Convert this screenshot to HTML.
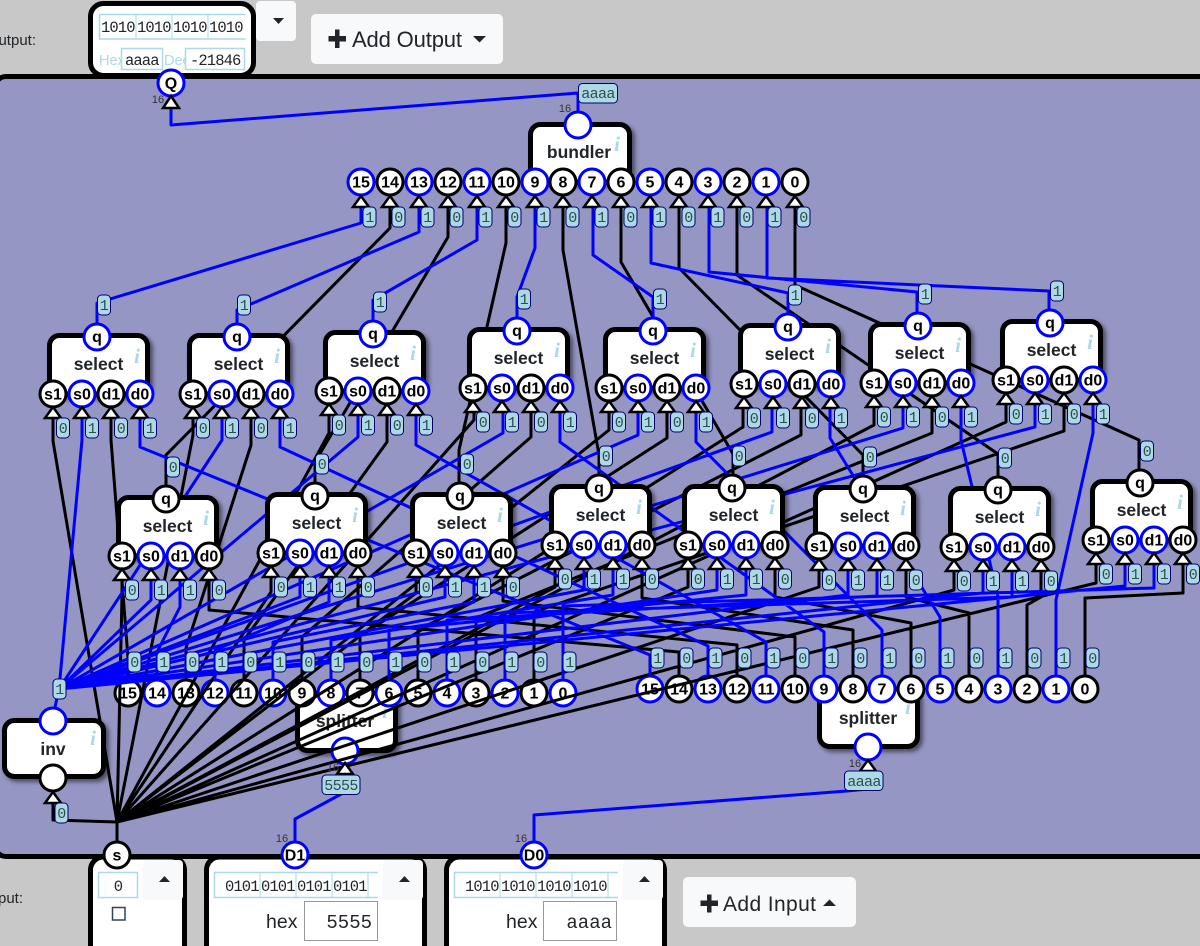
<!DOCTYPE html>
<html><head><meta charset="utf-8"><title>diagram</title>
<style>
html,body{margin:0;padding:0;background:#c8c8c8;overflow:hidden}
svg{display:block}
text{font-family:"Liberation Sans",sans-serif}
.bx{fill:#fff;stroke:#000;stroke-width:5;filter:drop-shadow(3px 3px 2px rgba(0,0,0,.5))}
.t{font-size:17.5px;font-weight:bold;fill:#212529;text-anchor:middle}
.i{font-family:"Liberation Serif",serif;font-size:21px;font-style:italic;font-weight:bold;fill:#add8e6;text-anchor:middle}
.k{fill:#fff;stroke:#000;stroke-width:3}
.u{fill:#fff;stroke:#00f;stroke-width:3}
.l{font-size:16px;font-weight:bold;fill:#000;text-anchor:middle}
.tr{fill:#fff;stroke:#000;stroke-width:2.5;stroke-linejoin:miter}
.bd{fill:#add8e6;stroke:#00006e;stroke-width:1}
.v{font-family:"Liberation Mono",monospace;font-size:15px;letter-spacing:-.6px;fill:#2f4f4f;text-anchor:middle}
.w{fill:none;stroke-width:3;stroke-linejoin:round}
.wk{stroke:#000}.wu{stroke:#00f}
.sm{font-size:11px;fill:#333;text-anchor:middle}
.m{font-family:"Liberation Mono",monospace;font-size:15.5px;letter-spacing:-.9px;fill:#212529}
.btn{fill:#f8f9fa}
.ib{fill:#fff;stroke:#add8e6;stroke-width:1.5}
.ibo{fill:none;stroke:#add8e6;stroke-width:1.5}
.sp{stroke:#add8e6;stroke-width:1;fill:none}
.o{fill:#fff;stroke:#000;stroke-width:5}
</style></head>
<body>
<svg xmlns="http://www.w3.org/2000/svg" width="1200" height="946" viewBox="0 0 1200 946">
<rect width="1200" height="946" fill="#c8c8c8"/>
<text x="36" y="45" text-anchor="end" font-size="15" fill="#212529">Output:</text>
<text x="23" y="903" text-anchor="end" font-size="15" fill="#212529">Input:</text>

<rect class="btn" x="256" y="1" width="40" height="40" rx="4"/>
<path d="M273 18h11l-5.500 6z" fill="#212529"/>
<rect class="btn" x="311" y="14" width="192" height="50" rx="5"/>
<path d="M329 36.500h6.500V30h3.500v6.500h6.500V41h-6.500v6.500h-3.500V41h-6.500z" fill="#212529" stroke="#212529"/>
<text x="352" y="47" font-size="22" fill="#212529" textLength="110">Add Output</text>
<path d="M473 36h13l-6.500 6.500z" fill="#212529"/>

<rect class="o" x="90.500" y="3.500" width="163" height="72" rx="13"/>
<path class="ibo" d="M245.500 14.500H99.500V39H245.500"/>
<text class="m" x="101" y="32">1010</text><text class="m" x="137" y="32">1010</text><text class="m" x="173" y="32">1010</text><text class="m" x="209" y="32">1010</text>
<path class="sp" d="M136 15v24M172 15v24M208 15v24"/>
<text x="99" y="65" font-size="14.500" fill="#add8e6">Hex</text>
<rect class="ib" x="121.500" y="48.500" width="41" height="21"/>
<text class="m" x="125" y="65">aaaa</text>
<text x="164" y="65" font-size="14.500" fill="#add8e6">Dec</text>
<rect class="ib" x="185.500" y="48.500" width="59" height="21"/>
<text class="m" x="190" y="65">-21846</text>

<rect x="-5" y="76.500" width="1215" height="780" rx="11" fill="#9696c4" stroke="#000" stroke-width="5"/>

<rect class="o" x="90.500" y="857" width="94" height="120" rx="13"/>
<rect class="ib" x="98.500" y="872.500" width="39" height="25"/>
<text class="m" x="118" y="891" text-anchor="middle">0</text>
<rect class="btn" x="143" y="860" width="40" height="40" rx="4"/>
<path d="M159 882h11l-5.500-6z" fill="#212529"/>
<rect x="112.500" y="907.500" width="12.500" height="12.500" fill="#fff" stroke="#345" stroke-width="1.500"/>

<rect class="o" x="206.500" y="857" width="218" height="120" rx="13"/>
<path class="ibo" d="M378 872.500H214.500V897.500H378"/>
<text class="m" x="225" y="891">0101</text><text class="m" x="261" y="891">0101</text><text class="m" x="297" y="891">0101</text><text class="m" x="333" y="891">0101</text>
<path class="sp" d="M260 873v24M296 873v24M332 873v24M368 873v24"/>
<rect class="btn" x="383" y="860" width="40" height="40" rx="4"/>
<path d="M399 882h11l-5.500-6z" fill="#212529"/>
<text x="266" y="928" font-size="19.500" fill="#212529">hex</text>
<rect x="304.500" y="901.500" width="73" height="39" fill="#fff" stroke="#999" stroke-width="1"/>
<text x="372" y="928" text-anchor="end" style="font-family:'Liberation Mono',monospace;font-size:19px" fill="#212529">5555</text>

<rect class="o" x="446.500" y="857" width="218" height="120" rx="13"/>
<path class="ibo" d="M618 872.500H454.500V897.500H618"/>
<text class="m" x="465" y="891">1010</text><text class="m" x="501" y="891">1010</text><text class="m" x="537" y="891">1010</text><text class="m" x="573" y="891">1010</text>
<path class="sp" d="M500 873v24M536 873v24M572 873v24M608 873v24"/>
<rect class="btn" x="623" y="860" width="40" height="40" rx="4"/>
<path d="M639 882h11l-5.500-6z" fill="#212529"/>
<text x="506" y="928" font-size="19.500" fill="#212529">hex</text>
<rect x="543.500" y="901.500" width="73" height="39" fill="#fff" stroke="#999" stroke-width="1"/>
<text x="612" y="928" text-anchor="end" style="font-family:'Liberation Mono',monospace;font-size:19px" fill="#212529">aaaa</text>

<rect class="btn" x="683" y="877" width="173" height="50" rx="5"/>
<path d="M701 901h6.500V895h3.500v6h6.500v4.500H711v6.500h-3.500v-6.500H701z" fill="#212529" stroke="#212529"/>
<text x="723" y="911" font-size="21" fill="#212529" textLength="93">Add Input</text>
<path d="M823 906h13l-6.500-6.500z" fill="#212529"/>

<!-- splitters below wires -->
<rect class="bx" x="297.500" y="693" width="98" height="57.500" rx="10"/>
<text class="t" x="345" y="727">splitter</text><text class="i" x="385" y="718">i</text>
<circle class="u" cx="345" cy="751" r="13"/>
<g>
<circle class="k" cx="128" cy="693" r="13"/><text class="l" x="128" y="698.500">15</text>
<circle class="u" cx="157" cy="693" r="13"/><text class="l" x="157" y="698.500">14</text>
<circle class="k" cx="186" cy="693" r="13"/><text class="l" x="186" y="698.500">13</text>
<circle class="u" cx="215" cy="693" r="13"/><text class="l" x="215" y="698.500">12</text>
<circle class="k" cx="244" cy="693" r="13"/><text class="l" x="244" y="698.500">11</text>
<circle class="u" cx="273" cy="693" r="13"/><text class="l" x="273" y="698.500">10</text>
<circle class="k" cx="302" cy="693" r="13"/><text class="l" x="302" y="698.500">9</text>
<circle class="u" cx="331" cy="693" r="13"/><text class="l" x="331" y="698.500">8</text>
<circle class="k" cx="360" cy="693" r="13"/><text class="l" x="360" y="698.500">7</text>
<circle class="u" cx="389" cy="693" r="13"/><text class="l" x="389" y="698.500">6</text>
<circle class="k" cx="418" cy="693" r="13"/><text class="l" x="418" y="698.500">5</text>
<circle class="u" cx="447" cy="693" r="13"/><text class="l" x="447" y="698.500">4</text>
<circle class="k" cx="476" cy="693" r="13"/><text class="l" x="476" y="698.500">3</text>
<circle class="u" cx="505" cy="693" r="13"/><text class="l" x="505" y="698.500">2</text>
<circle class="k" cx="534" cy="693" r="13"/><text class="l" x="534" y="698.500">1</text>
<circle class="u" cx="563" cy="693" r="13"/><text class="l" x="563" y="698.500">0</text>
</g>
<rect class="bx" x="819.500" y="689" width="98" height="57.500" rx="10"/>
<text class="t" x="868" y="724">splitter</text><text class="i" x="908" y="714">i</text>
<circle class="u" cx="868" cy="747" r="13"/>
<g>
<circle class="u" cx="650" cy="689" r="13"/><text class="l" x="650" y="694.500">15</text>
<circle class="k" cx="679" cy="689" r="13"/><text class="l" x="679" y="694.500">14</text>
<circle class="u" cx="708" cy="689" r="13"/><text class="l" x="708" y="694.500">13</text>
<circle class="k" cx="737" cy="689" r="13"/><text class="l" x="737" y="694.500">12</text>
<circle class="u" cx="766" cy="689" r="13"/><text class="l" x="766" y="694.500">11</text>
<circle class="k" cx="795" cy="689" r="13"/><text class="l" x="795" y="694.500">10</text>
<circle class="u" cx="824" cy="689" r="13"/><text class="l" x="824" y="694.500">9</text>
<circle class="k" cx="853" cy="689" r="13"/><text class="l" x="853" y="694.500">8</text>
<circle class="u" cx="882" cy="689" r="13"/><text class="l" x="882" y="694.500">7</text>
<circle class="k" cx="911" cy="689" r="13"/><text class="l" x="911" y="694.500">6</text>
<circle class="u" cx="940" cy="689" r="13"/><text class="l" x="940" y="694.500">5</text>
<circle class="k" cx="969" cy="689" r="13"/><text class="l" x="969" y="694.500">4</text>
<circle class="u" cx="998" cy="689" r="13"/><text class="l" x="998" y="694.500">3</text>
<circle class="k" cx="1027" cy="689" r="13"/><text class="l" x="1027" y="694.500">2</text>
<circle class="u" cx="1056" cy="689" r="13"/><text class="l" x="1056" y="694.500">1</text>
<circle class="k" cx="1085" cy="689" r="13"/><text class="l" x="1085" y="694.500">0</text>
</g>

<!-- black wires -->
<path class="w wk" d="M117 855V822L53 820V803
M117 822L53 441V418M117 822L193 435V418M117 822L329 433V415M117 822L474 420V412M117 822L609 430V412M117 822L743 427V408M117 822L874 425V407M117 822L1006 422V404
M117 822L122 595V580M117 822L271 592V577M117 822L416 593V577M117 822L555 587V569M117 822L688 587V569M117 822L819 587V570M117 822L954 590V571M117 822L1096 583V564
M128 680V658L111 440V418M186 680V648L251 445V418M244 680V640L387 442V415M302 680V637L531 437V412M360 680V636L667 438V412M418 680V630L801 435V408M476 680V618L932 433V407M534 680V612L1064 431V404
M679 676V652L209 610V580M737 676V645L358 607V577M795 676V637L503 601V577M853 676V630L642 598V569M911 676V623L775 597V569M969 676V613L906 597V570M1027 676V605L1041 597V571M1085 676V598L1183 593V564
M166 499V455L390 228V207M315 496V462L448 237V207M459 496V450L506 243V207M599 488V455L563 250V207M733 488V454L621 262V207M863 489V455L679 268V207M998 491V454L737 275V207M1139 482V440L795 285V207"/>
<!-- blue wires -->
<path class="w wu" d="M52 721L59 689
M59 689L82 440V418M59 689L222 440V418M59 689L358 437V415M59 689L503 433V412M59 689L638 435V412M59 689L772 432V408M59 689L903 428V407M59 689L1035 427V404
M59 689L151 600V580M59 689L300 597V577M59 689L445 597V577M59 689L584 590V569M59 689L717 590V569M59 689L848 595V570M59 689L983 593V571M59 689L1125 586V564
M157 680V652L180 607V580M215 680V650L329 602V577M273 680V642L474 602V577M331 680V640L613 595V569M389 680V630L746 595V569M447 680V620L877 596V570M505 680V613L1012 597V571M563 680V606L1154 588V564
M650 676V655L140 447V418M708 676V646L280 447V418M766 676V642L416 445V415M824 676V632L560 442V412M882 676V630L696 442V412M940 676V617L830 438V408M998 676V597L961 440V407M1056 676V600L1093 433V404
M97 337V303L361 223V207M237 337V310L419 232V207M373 335V300L477 240V207M517 331V297L535 248V207M653 331V297L593 255V207M788 326V293L651 263V207M917 325V292L709 272V207M1049 323V291L767 278V207
M578 125V93L171 125V108M534 855V815L847 791L868 789V770M295 855V819L345 792V773"/>

<!-- upper selects -->
<g transform="translate(53,394)"><rect class="bx" x="-3.500" y="-58.500" width="98" height="58.500" rx="10"/><text class="t" x="45.500" y="-24">select</text><text class="i" x="84" y="-31">i</text><circle class="u" cx="44" cy="-57" r="13"/><text class="l" x="44" y="-52">q</text><circle class="k" r="13"/><text class="l" y="5.500">s1</text><circle class="u" cx="29" r="13"/><text class="l" x="29" y="5.500">s0</text><circle class="k" cx="58" r="13"/><text class="l" x="58" y="5.500">d1</text><circle class="u" cx="87" r="13"/><text class="l" x="87" y="5.500">d0</text><path class="tr" d="M0 13l8 11h-16zM29 13l8 11h-16zM58 13l8 11h-16zM87 13l8 11h-16z"/><rect class="bd" x="3.500" y="24" width="13" height="20" rx="4"/><text class="v" x="10" y="39">0</text><rect class="bd" x="32.500" y="24" width="13" height="20" rx="4"/><text class="v" x="39" y="39">1</text><rect class="bd" x="61.500" y="24" width="13" height="20" rx="4"/><text class="v" x="68" y="39">0</text><rect class="bd" x="90.500" y="24" width="13" height="20" rx="4"/><text class="v" x="97" y="39">1</text><rect class="bd" x="44.500" y="-99" width="13" height="20" rx="4"/><text class="v" x="51" y="-84">1</text></g>
<g transform="translate(193,394)"><rect class="bx" x="-3.500" y="-58.500" width="98" height="58.500" rx="10"/><text class="t" x="45.500" y="-24">select</text><text class="i" x="84" y="-31">i</text><circle class="u" cx="44" cy="-57" r="13"/><text class="l" x="44" y="-52">q</text><circle class="k" r="13"/><text class="l" y="5.500">s1</text><circle class="u" cx="29" r="13"/><text class="l" x="29" y="5.500">s0</text><circle class="k" cx="58" r="13"/><text class="l" x="58" y="5.500">d1</text><circle class="u" cx="87" r="13"/><text class="l" x="87" y="5.500">d0</text><path class="tr" d="M0 13l8 11h-16zM29 13l8 11h-16zM58 13l8 11h-16zM87 13l8 11h-16z"/><rect class="bd" x="3.500" y="24" width="13" height="20" rx="4"/><text class="v" x="10" y="39">0</text><rect class="bd" x="32.500" y="24" width="13" height="20" rx="4"/><text class="v" x="39" y="39">1</text><rect class="bd" x="61.500" y="24" width="13" height="20" rx="4"/><text class="v" x="68" y="39">0</text><rect class="bd" x="90.500" y="24" width="13" height="20" rx="4"/><text class="v" x="97" y="39">1</text><rect class="bd" x="44.500" y="-99" width="13" height="20" rx="4"/><text class="v" x="51" y="-84">1</text></g>
<g transform="translate(329,391)"><rect class="bx" x="-3.500" y="-58.500" width="98" height="58.500" rx="10"/><text class="t" x="45.500" y="-24">select</text><text class="i" x="84" y="-31">i</text><circle class="u" cx="44" cy="-57" r="13"/><text class="l" x="44" y="-52">q</text><circle class="k" r="13"/><text class="l" y="5.500">s1</text><circle class="u" cx="29" r="13"/><text class="l" x="29" y="5.500">s0</text><circle class="k" cx="58" r="13"/><text class="l" x="58" y="5.500">d1</text><circle class="u" cx="87" r="13"/><text class="l" x="87" y="5.500">d0</text><path class="tr" d="M0 13l8 11h-16zM29 13l8 11h-16zM58 13l8 11h-16zM87 13l8 11h-16z"/><rect class="bd" x="3.500" y="24" width="13" height="20" rx="4"/><text class="v" x="10" y="39">0</text><rect class="bd" x="32.500" y="24" width="13" height="20" rx="4"/><text class="v" x="39" y="39">1</text><rect class="bd" x="61.500" y="24" width="13" height="20" rx="4"/><text class="v" x="68" y="39">0</text><rect class="bd" x="90.500" y="24" width="13" height="20" rx="4"/><text class="v" x="97" y="39">1</text><rect class="bd" x="44.500" y="-99" width="13" height="20" rx="4"/><text class="v" x="51" y="-84">1</text></g>
<g transform="translate(473,388)"><rect class="bx" x="-3.500" y="-58.500" width="98" height="58.500" rx="10"/><text class="t" x="45.500" y="-24">select</text><text class="i" x="84" y="-31">i</text><circle class="u" cx="44" cy="-57" r="13"/><text class="l" x="44" y="-52">q</text><circle class="k" r="13"/><text class="l" y="5.500">s1</text><circle class="u" cx="29" r="13"/><text class="l" x="29" y="5.500">s0</text><circle class="k" cx="58" r="13"/><text class="l" x="58" y="5.500">d1</text><circle class="u" cx="87" r="13"/><text class="l" x="87" y="5.500">d0</text><path class="tr" d="M0 13l8 11h-16zM29 13l8 11h-16zM58 13l8 11h-16zM87 13l8 11h-16z"/><rect class="bd" x="3.500" y="24" width="13" height="20" rx="4"/><text class="v" x="10" y="39">0</text><rect class="bd" x="32.500" y="24" width="13" height="20" rx="4"/><text class="v" x="39" y="39">1</text><rect class="bd" x="61.500" y="24" width="13" height="20" rx="4"/><text class="v" x="68" y="39">0</text><rect class="bd" x="90.500" y="24" width="13" height="20" rx="4"/><text class="v" x="97" y="39">1</text><rect class="bd" x="44.500" y="-99" width="13" height="20" rx="4"/><text class="v" x="51" y="-84">1</text></g>
<g transform="translate(609,388)"><rect class="bx" x="-3.500" y="-58.500" width="98" height="58.500" rx="10"/><text class="t" x="45.500" y="-24">select</text><text class="i" x="84" y="-31">i</text><circle class="u" cx="44" cy="-57" r="13"/><text class="l" x="44" y="-52">q</text><circle class="k" r="13"/><text class="l" y="5.500">s1</text><circle class="u" cx="29" r="13"/><text class="l" x="29" y="5.500">s0</text><circle class="k" cx="58" r="13"/><text class="l" x="58" y="5.500">d1</text><circle class="u" cx="87" r="13"/><text class="l" x="87" y="5.500">d0</text><path class="tr" d="M0 13l8 11h-16zM29 13l8 11h-16zM58 13l8 11h-16zM87 13l8 11h-16z"/><rect class="bd" x="3.500" y="24" width="13" height="20" rx="4"/><text class="v" x="10" y="39">0</text><rect class="bd" x="32.500" y="24" width="13" height="20" rx="4"/><text class="v" x="39" y="39">1</text><rect class="bd" x="61.500" y="24" width="13" height="20" rx="4"/><text class="v" x="68" y="39">0</text><rect class="bd" x="90.500" y="24" width="13" height="20" rx="4"/><text class="v" x="97" y="39">1</text><rect class="bd" x="44.500" y="-99" width="13" height="20" rx="4"/><text class="v" x="51" y="-84">1</text></g>
<g transform="translate(744,384)"><rect class="bx" x="-3.500" y="-58.500" width="98" height="58.500" rx="10"/><text class="t" x="45.500" y="-24">select</text><text class="i" x="84" y="-31">i</text><circle class="u" cx="44" cy="-57" r="13"/><text class="l" x="44" y="-52">q</text><circle class="k" r="13"/><text class="l" y="5.500">s1</text><circle class="u" cx="29" r="13"/><text class="l" x="29" y="5.500">s0</text><circle class="k" cx="58" r="13"/><text class="l" x="58" y="5.500">d1</text><circle class="u" cx="87" r="13"/><text class="l" x="87" y="5.500">d0</text><path class="tr" d="M0 13l8 11h-16zM29 13l8 11h-16zM58 13l8 11h-16zM87 13l8 11h-16z"/><rect class="bd" x="3.500" y="24" width="13" height="20" rx="4"/><text class="v" x="10" y="39">0</text><rect class="bd" x="32.500" y="24" width="13" height="20" rx="4"/><text class="v" x="39" y="39">1</text><rect class="bd" x="61.500" y="24" width="13" height="20" rx="4"/><text class="v" x="68" y="39">0</text><rect class="bd" x="90.500" y="24" width="13" height="20" rx="4"/><text class="v" x="97" y="39">1</text><rect class="bd" x="44.500" y="-99" width="13" height="20" rx="4"/><text class="v" x="51" y="-84">1</text></g>
<g transform="translate(874,383)"><rect class="bx" x="-3.500" y="-58.500" width="98" height="58.500" rx="10"/><text class="t" x="45.500" y="-24">select</text><text class="i" x="84" y="-31">i</text><circle class="u" cx="44" cy="-57" r="13"/><text class="l" x="44" y="-52">q</text><circle class="k" r="13"/><text class="l" y="5.500">s1</text><circle class="u" cx="29" r="13"/><text class="l" x="29" y="5.500">s0</text><circle class="k" cx="58" r="13"/><text class="l" x="58" y="5.500">d1</text><circle class="u" cx="87" r="13"/><text class="l" x="87" y="5.500">d0</text><path class="tr" d="M0 13l8 11h-16zM29 13l8 11h-16zM58 13l8 11h-16zM87 13l8 11h-16z"/><rect class="bd" x="3.500" y="24" width="13" height="20" rx="4"/><text class="v" x="10" y="39">0</text><rect class="bd" x="32.500" y="24" width="13" height="20" rx="4"/><text class="v" x="39" y="39">1</text><rect class="bd" x="61.500" y="24" width="13" height="20" rx="4"/><text class="v" x="68" y="39">0</text><rect class="bd" x="90.500" y="24" width="13" height="20" rx="4"/><text class="v" x="97" y="39">1</text><rect class="bd" x="44.500" y="-99" width="13" height="20" rx="4"/><text class="v" x="51" y="-84">1</text></g>
<g transform="translate(1006,380)"><rect class="bx" x="-3.500" y="-58.500" width="98" height="58.500" rx="10"/><text class="t" x="45.500" y="-24">select</text><text class="i" x="84" y="-31">i</text><circle class="u" cx="44" cy="-57" r="13"/><text class="l" x="44" y="-52">q</text><circle class="k" r="13"/><text class="l" y="5.500">s1</text><circle class="u" cx="29" r="13"/><text class="l" x="29" y="5.500">s0</text><circle class="k" cx="58" r="13"/><text class="l" x="58" y="5.500">d1</text><circle class="u" cx="87" r="13"/><text class="l" x="87" y="5.500">d0</text><path class="tr" d="M0 13l8 11h-16zM29 13l8 11h-16zM58 13l8 11h-16zM87 13l8 11h-16z"/><rect class="bd" x="3.500" y="24" width="13" height="20" rx="4"/><text class="v" x="10" y="39">0</text><rect class="bd" x="32.500" y="24" width="13" height="20" rx="4"/><text class="v" x="39" y="39">1</text><rect class="bd" x="61.500" y="24" width="13" height="20" rx="4"/><text class="v" x="68" y="39">0</text><rect class="bd" x="90.500" y="24" width="13" height="20" rx="4"/><text class="v" x="97" y="39">1</text><rect class="bd" x="44.500" y="-99" width="13" height="20" rx="4"/><text class="v" x="51" y="-84">1</text></g>

<!-- lower selects -->
<g transform="translate(122,556)"><rect class="bx" x="-3.500" y="-58.500" width="98" height="58.500" rx="10"/><text class="t" x="45.500" y="-24">select</text><text class="i" x="84" y="-31">i</text><circle class="k" cx="44" cy="-57" r="13"/><text class="l" x="44" y="-52">q</text><circle class="k" r="13"/><text class="l" y="5.500">s1</text><circle class="u" cx="29" r="13"/><text class="l" x="29" y="5.500">s0</text><circle class="u" cx="58" r="13"/><text class="l" x="58" y="5.500">d1</text><circle class="k" cx="87" r="13"/><text class="l" x="87" y="5.500">d0</text><path class="tr" d="M0 13l8 11h-16zM29 13l8 11h-16zM58 13l8 11h-16zM87 13l8 11h-16z"/><rect class="bd" x="3.500" y="24" width="13" height="20" rx="4"/><text class="v" x="10" y="39">0</text><rect class="bd" x="32.500" y="24" width="13" height="20" rx="4"/><text class="v" x="39" y="39">1</text><rect class="bd" x="61.500" y="24" width="13" height="20" rx="4"/><text class="v" x="68" y="39">1</text><rect class="bd" x="90.500" y="24" width="13" height="20" rx="4"/><text class="v" x="97" y="39">0</text><rect class="bd" x="44.500" y="-99" width="13" height="20" rx="4"/><text class="v" x="51" y="-84">0</text></g>
<g transform="translate(271,553)"><rect class="bx" x="-3.500" y="-58.500" width="98" height="58.500" rx="10"/><text class="t" x="45.500" y="-24">select</text><text class="i" x="84" y="-31">i</text><circle class="k" cx="44" cy="-57" r="13"/><text class="l" x="44" y="-52">q</text><circle class="k" r="13"/><text class="l" y="5.500">s1</text><circle class="u" cx="29" r="13"/><text class="l" x="29" y="5.500">s0</text><circle class="u" cx="58" r="13"/><text class="l" x="58" y="5.500">d1</text><circle class="k" cx="87" r="13"/><text class="l" x="87" y="5.500">d0</text><path class="tr" d="M0 13l8 11h-16zM29 13l8 11h-16zM58 13l8 11h-16zM87 13l8 11h-16z"/><rect class="bd" x="3.500" y="24" width="13" height="20" rx="4"/><text class="v" x="10" y="39">0</text><rect class="bd" x="32.500" y="24" width="13" height="20" rx="4"/><text class="v" x="39" y="39">1</text><rect class="bd" x="61.500" y="24" width="13" height="20" rx="4"/><text class="v" x="68" y="39">1</text><rect class="bd" x="90.500" y="24" width="13" height="20" rx="4"/><text class="v" x="97" y="39">0</text><rect class="bd" x="44.500" y="-99" width="13" height="20" rx="4"/><text class="v" x="51" y="-84">0</text></g>
<g transform="translate(416,553)"><rect class="bx" x="-3.500" y="-58.500" width="98" height="58.500" rx="10"/><text class="t" x="45.500" y="-24">select</text><text class="i" x="84" y="-31">i</text><circle class="k" cx="44" cy="-57" r="13"/><text class="l" x="44" y="-52">q</text><circle class="k" r="13"/><text class="l" y="5.500">s1</text><circle class="u" cx="29" r="13"/><text class="l" x="29" y="5.500">s0</text><circle class="u" cx="58" r="13"/><text class="l" x="58" y="5.500">d1</text><circle class="k" cx="87" r="13"/><text class="l" x="87" y="5.500">d0</text><path class="tr" d="M0 13l8 11h-16zM29 13l8 11h-16zM58 13l8 11h-16zM87 13l8 11h-16z"/><rect class="bd" x="3.500" y="24" width="13" height="20" rx="4"/><text class="v" x="10" y="39">0</text><rect class="bd" x="32.500" y="24" width="13" height="20" rx="4"/><text class="v" x="39" y="39">1</text><rect class="bd" x="61.500" y="24" width="13" height="20" rx="4"/><text class="v" x="68" y="39">1</text><rect class="bd" x="90.500" y="24" width="13" height="20" rx="4"/><text class="v" x="97" y="39">0</text><rect class="bd" x="44.500" y="-99" width="13" height="20" rx="4"/><text class="v" x="51" y="-84">0</text></g>
<g transform="translate(555,545)"><rect class="bx" x="-3.500" y="-58.500" width="98" height="58.500" rx="10"/><text class="t" x="45.500" y="-24">select</text><text class="i" x="84" y="-31">i</text><circle class="k" cx="44" cy="-57" r="13"/><text class="l" x="44" y="-52">q</text><circle class="k" r="13"/><text class="l" y="5.500">s1</text><circle class="u" cx="29" r="13"/><text class="l" x="29" y="5.500">s0</text><circle class="u" cx="58" r="13"/><text class="l" x="58" y="5.500">d1</text><circle class="k" cx="87" r="13"/><text class="l" x="87" y="5.500">d0</text><path class="tr" d="M0 13l8 11h-16zM29 13l8 11h-16zM58 13l8 11h-16zM87 13l8 11h-16z"/><rect class="bd" x="3.500" y="24" width="13" height="20" rx="4"/><text class="v" x="10" y="39">0</text><rect class="bd" x="32.500" y="24" width="13" height="20" rx="4"/><text class="v" x="39" y="39">1</text><rect class="bd" x="61.500" y="24" width="13" height="20" rx="4"/><text class="v" x="68" y="39">1</text><rect class="bd" x="90.500" y="24" width="13" height="20" rx="4"/><text class="v" x="97" y="39">0</text><rect class="bd" x="44.500" y="-99" width="13" height="20" rx="4"/><text class="v" x="51" y="-84">0</text></g>
<g transform="translate(688,545)"><rect class="bx" x="-3.500" y="-58.500" width="98" height="58.500" rx="10"/><text class="t" x="45.500" y="-24">select</text><text class="i" x="84" y="-31">i</text><circle class="k" cx="44" cy="-57" r="13"/><text class="l" x="44" y="-52">q</text><circle class="k" r="13"/><text class="l" y="5.500">s1</text><circle class="u" cx="29" r="13"/><text class="l" x="29" y="5.500">s0</text><circle class="u" cx="58" r="13"/><text class="l" x="58" y="5.500">d1</text><circle class="k" cx="87" r="13"/><text class="l" x="87" y="5.500">d0</text><path class="tr" d="M0 13l8 11h-16zM29 13l8 11h-16zM58 13l8 11h-16zM87 13l8 11h-16z"/><rect class="bd" x="3.500" y="24" width="13" height="20" rx="4"/><text class="v" x="10" y="39">0</text><rect class="bd" x="32.500" y="24" width="13" height="20" rx="4"/><text class="v" x="39" y="39">1</text><rect class="bd" x="61.500" y="24" width="13" height="20" rx="4"/><text class="v" x="68" y="39">1</text><rect class="bd" x="90.500" y="24" width="13" height="20" rx="4"/><text class="v" x="97" y="39">0</text><rect class="bd" x="44.500" y="-99" width="13" height="20" rx="4"/><text class="v" x="51" y="-84">0</text></g>
<g transform="translate(819,546)"><rect class="bx" x="-3.500" y="-58.500" width="98" height="58.500" rx="10"/><text class="t" x="45.500" y="-24">select</text><text class="i" x="84" y="-31">i</text><circle class="k" cx="44" cy="-57" r="13"/><text class="l" x="44" y="-52">q</text><circle class="k" r="13"/><text class="l" y="5.500">s1</text><circle class="u" cx="29" r="13"/><text class="l" x="29" y="5.500">s0</text><circle class="u" cx="58" r="13"/><text class="l" x="58" y="5.500">d1</text><circle class="k" cx="87" r="13"/><text class="l" x="87" y="5.500">d0</text><path class="tr" d="M0 13l8 11h-16zM29 13l8 11h-16zM58 13l8 11h-16zM87 13l8 11h-16z"/><rect class="bd" x="3.500" y="24" width="13" height="20" rx="4"/><text class="v" x="10" y="39">0</text><rect class="bd" x="32.500" y="24" width="13" height="20" rx="4"/><text class="v" x="39" y="39">1</text><rect class="bd" x="61.500" y="24" width="13" height="20" rx="4"/><text class="v" x="68" y="39">1</text><rect class="bd" x="90.500" y="24" width="13" height="20" rx="4"/><text class="v" x="97" y="39">0</text><rect class="bd" x="44.500" y="-99" width="13" height="20" rx="4"/><text class="v" x="51" y="-84">0</text></g>
<g transform="translate(954,547)"><rect class="bx" x="-3.500" y="-58.500" width="98" height="58.500" rx="10"/><text class="t" x="45.500" y="-24">select</text><text class="i" x="84" y="-31">i</text><circle class="k" cx="44" cy="-57" r="13"/><text class="l" x="44" y="-52">q</text><circle class="k" r="13"/><text class="l" y="5.500">s1</text><circle class="u" cx="29" r="13"/><text class="l" x="29" y="5.500">s0</text><circle class="u" cx="58" r="13"/><text class="l" x="58" y="5.500">d1</text><circle class="k" cx="87" r="13"/><text class="l" x="87" y="5.500">d0</text><path class="tr" d="M0 13l8 11h-16zM29 13l8 11h-16zM58 13l8 11h-16zM87 13l8 11h-16z"/><rect class="bd" x="3.500" y="24" width="13" height="20" rx="4"/><text class="v" x="10" y="39">0</text><rect class="bd" x="32.500" y="24" width="13" height="20" rx="4"/><text class="v" x="39" y="39">1</text><rect class="bd" x="61.500" y="24" width="13" height="20" rx="4"/><text class="v" x="68" y="39">1</text><rect class="bd" x="90.500" y="24" width="13" height="20" rx="4"/><text class="v" x="97" y="39">0</text><rect class="bd" x="44.500" y="-99" width="13" height="20" rx="4"/><text class="v" x="51" y="-84">0</text></g>
<g transform="translate(1096,540)"><rect class="bx" x="-3.500" y="-58.500" width="98" height="58.500" rx="10"/><text class="t" x="45.500" y="-24">select</text><text class="i" x="84" y="-31">i</text><circle class="k" cx="44" cy="-57" r="13"/><text class="l" x="44" y="-52">q</text><circle class="k" r="13"/><text class="l" y="5.500">s1</text><circle class="u" cx="29" r="13"/><text class="l" x="29" y="5.500">s0</text><circle class="u" cx="58" r="13"/><text class="l" x="58" y="5.500">d1</text><circle class="k" cx="87" r="13"/><text class="l" x="87" y="5.500">d0</text><path class="tr" d="M0 13l8 11h-16zM29 13l8 11h-16zM58 13l8 11h-16zM87 13l8 11h-16z"/><rect class="bd" x="3.500" y="24" width="13" height="20" rx="4"/><text class="v" x="10" y="39">0</text><rect class="bd" x="32.500" y="24" width="13" height="20" rx="4"/><text class="v" x="39" y="39">1</text><rect class="bd" x="61.500" y="24" width="13" height="20" rx="4"/><text class="v" x="68" y="39">1</text><rect class="bd" x="90.500" y="24" width="13" height="20" rx="4"/><text class="v" x="97" y="39">0</text><rect class="bd" x="44.500" y="-99" width="13" height="20" rx="4"/><text class="v" x="51" y="-84">0</text></g>

<!-- bundler -->
<rect class="bx" x="530.500" y="124.500" width="99" height="57.500" rx="10"/>
<text class="t" x="579" y="158">bundler</text><text class="i" x="617" y="151">i</text>
<circle class="u" cx="578" cy="125" r="13"/>
<circle class="u" cx="361" cy="182" r="13"/><text class="l" x="361" y="187.500">15</text>
<circle class="k" cx="390" cy="182" r="13"/><text class="l" x="390" y="187.500">14</text>
<circle class="u" cx="419" cy="182" r="13"/><text class="l" x="419" y="187.500">13</text>
<circle class="k" cx="448" cy="182" r="13"/><text class="l" x="448" y="187.500">12</text>
<circle class="u" cx="477" cy="182" r="13"/><text class="l" x="477" y="187.500">11</text>
<circle class="k" cx="506" cy="182" r="13"/><text class="l" x="506" y="187.500">10</text>
<circle class="u" cx="535" cy="182" r="13"/><text class="l" x="535" y="187.500">9</text>
<circle class="k" cx="563" cy="182" r="13"/><text class="l" x="563" y="187.500">8</text>
<circle class="u" cx="592" cy="182" r="13"/><text class="l" x="592" y="187.500">7</text>
<circle class="k" cx="621" cy="182" r="13"/><text class="l" x="621" y="187.500">6</text>
<circle class="u" cx="650" cy="182" r="13"/><text class="l" x="650" y="187.500">5</text>
<circle class="k" cx="679" cy="182" r="13"/><text class="l" x="679" y="187.500">4</text>
<circle class="u" cx="708" cy="182" r="13"/><text class="l" x="708" y="187.500">3</text>
<circle class="k" cx="737" cy="182" r="13"/><text class="l" x="737" y="187.500">2</text>
<circle class="u" cx="766" cy="182" r="13"/><text class="l" x="766" y="187.500">1</text>
<circle class="k" cx="795" cy="182" r="13"/><text class="l" x="795" y="187.500">0</text>
<path class="tr" d="M361 196l8 11h-16zM390 196l8 11h-16zM419 196l8 11h-16zM448 196l8 11h-16zM477 196l8 11h-16zM506 196l8 11h-16zM535 196l8 11h-16zM563 196l8 11h-16zM592 196l8 11h-16zM621 196l8 11h-16zM650 196l8 11h-16zM679 196l8 11h-16zM708 196l8 11h-16zM737 196l8 11h-16zM766 196l8 11h-16zM795 196l8 11h-16z"/>
<g>
<rect class="bd" x="363" y="207" width="13" height="20" rx="4"/><text class="v" x="369.500" y="222">1</text>
<rect class="bd" x="392" y="207" width="13" height="20" rx="4"/><text class="v" x="398.500" y="222">0</text>
<rect class="bd" x="421" y="207" width="13" height="20" rx="4"/><text class="v" x="427.500" y="222">1</text>
<rect class="bd" x="450" y="207" width="13" height="20" rx="4"/><text class="v" x="456.500" y="222">0</text>
<rect class="bd" x="479" y="207" width="13" height="20" rx="4"/><text class="v" x="485.500" y="222">1</text>
<rect class="bd" x="508" y="207" width="13" height="20" rx="4"/><text class="v" x="514.500" y="222">0</text>
<rect class="bd" x="537" y="207" width="13" height="20" rx="4"/><text class="v" x="543.500" y="222">1</text>
<rect class="bd" x="566" y="207" width="13" height="20" rx="4"/><text class="v" x="572.500" y="222">0</text>
<rect class="bd" x="595" y="207" width="13" height="20" rx="4"/><text class="v" x="601.500" y="222">1</text>
<rect class="bd" x="624" y="207" width="13" height="20" rx="4"/><text class="v" x="630.500" y="222">0</text>
<rect class="bd" x="653" y="207" width="13" height="20" rx="4"/><text class="v" x="659.500" y="222">1</text>
<rect class="bd" x="682" y="207" width="13" height="20" rx="4"/><text class="v" x="688.500" y="222">0</text>
<rect class="bd" x="711" y="207" width="13" height="20" rx="4"/><text class="v" x="717.500" y="222">1</text>
<rect class="bd" x="740" y="207" width="13" height="20" rx="4"/><text class="v" x="746.500" y="222">0</text>
<rect class="bd" x="768" y="207" width="13" height="20" rx="4"/><text class="v" x="774.500" y="222">1</text>
<rect class="bd" x="797" y="207" width="13" height="20" rx="4"/><text class="v" x="803.500" y="222">0</text>
</g>

<!-- inv -->
<rect class="bx" x="4.500" y="720.500" width="99" height="56" rx="10"/>
<text class="t" x="53" y="755">inv</text><text class="i" x="93" y="745">i</text>
<circle class="u" cx="53" cy="721" r="13"/>
<circle class="k" cx="53" cy="778" r="13"/>
<path class="tr" d="M53 792l8 11h-16z"/>

<!-- circuit IO -->
<circle class="u" cx="171" cy="83" r="13"/><text class="l" x="171" y="88.500">Q</text>
<path class="tr" d="M171 96l8 12h-16z"/>
<text class="sm" x="158" y="103">16</text>
<circle class="k" cx="117" cy="855" r="13"/><text class="l" x="117" y="860.500">s</text>
<circle class="u" cx="295" cy="855" r="13"/><text class="l" x="295" y="860.500">D1</text>
<text class="sm" x="282" y="842">16</text>
<circle class="u" cx="534" cy="855" r="13"/><text class="l" x="534" y="860.500">D0</text>
<text class="sm" x="521" y="842">16</text>
<path class="tr" d="M345 763l8 11h-16z"/><text class="sm" x="333" y="771">16</text>
<path class="tr" d="M868 760l8 11h-16z"/><text class="sm" x="855" y="767">16</text>
<text class="sm" x="565" y="112">16</text>

<!-- large and small badges -->
<rect class="bd" x="578.500" y="83.500" width="39" height="19.500" rx="4"/><text class="v" x="598" y="98">aaaa</text>
<rect class="bd" x="322" y="775" width="38" height="19.500" rx="4"/><text class="v" x="341" y="790">5555</text>
<rect class="bd" x="844.500" y="771" width="38.500" height="19.500" rx="4"/><text class="v" x="864" y="786">aaaa</text>
<rect class="bd" x="55" y="803" width="13" height="20" rx="4"/><text class="v" x="61.500" y="818">0</text>
<rect class="bd" x="53" y="679" width="13" height="20" rx="4"/><text class="v" x="59.500" y="694">1</text>
<g>
<rect class="bd" x="128" y="652" width="13" height="20" rx="4"/><text class="v" x="134.500" y="667">0</text>
<rect class="bd" x="157" y="652" width="13" height="20" rx="4"/><text class="v" x="163.500" y="667">1</text>
<rect class="bd" x="186" y="652" width="13" height="20" rx="4"/><text class="v" x="192.500" y="667">0</text>
<rect class="bd" x="215" y="652" width="13" height="20" rx="4"/><text class="v" x="221.500" y="667">1</text>
<rect class="bd" x="244" y="652" width="13" height="20" rx="4"/><text class="v" x="250.500" y="667">0</text>
<rect class="bd" x="273" y="652" width="13" height="20" rx="4"/><text class="v" x="279.500" y="667">1</text>
<rect class="bd" x="302" y="652" width="13" height="20" rx="4"/><text class="v" x="308.500" y="667">0</text>
<rect class="bd" x="331" y="652" width="13" height="20" rx="4"/><text class="v" x="337.500" y="667">1</text>
<rect class="bd" x="360" y="652" width="13" height="20" rx="4"/><text class="v" x="366.500" y="667">0</text>
<rect class="bd" x="389" y="652" width="13" height="20" rx="4"/><text class="v" x="395.500" y="667">1</text>
<rect class="bd" x="418" y="652" width="13" height="20" rx="4"/><text class="v" x="424.500" y="667">0</text>
<rect class="bd" x="447" y="652" width="13" height="20" rx="4"/><text class="v" x="453.500" y="667">1</text>
<rect class="bd" x="476" y="652" width="13" height="20" rx="4"/><text class="v" x="482.500" y="667">0</text>
<rect class="bd" x="505" y="652" width="13" height="20" rx="4"/><text class="v" x="511.500" y="667">1</text>
<rect class="bd" x="534" y="652" width="13" height="20" rx="4"/><text class="v" x="540.500" y="667">0</text>
<rect class="bd" x="563" y="652" width="13" height="20" rx="4"/><text class="v" x="569.500" y="667">1</text>
</g>
<g>
<rect class="bd" x="651" y="648" width="13" height="20" rx="4"/><text class="v" x="657.500" y="663">1</text>
<rect class="bd" x="680" y="648" width="13" height="20" rx="4"/><text class="v" x="686.500" y="663">0</text>
<rect class="bd" x="709" y="648" width="13" height="20" rx="4"/><text class="v" x="715.500" y="663">1</text>
<rect class="bd" x="738" y="648" width="13" height="20" rx="4"/><text class="v" x="744.500" y="663">0</text>
<rect class="bd" x="767" y="648" width="13" height="20" rx="4"/><text class="v" x="773.500" y="663">1</text>
<rect class="bd" x="796" y="648" width="13" height="20" rx="4"/><text class="v" x="802.500" y="663">0</text>
<rect class="bd" x="825" y="648" width="13" height="20" rx="4"/><text class="v" x="831.500" y="663">1</text>
<rect class="bd" x="854" y="648" width="13" height="20" rx="4"/><text class="v" x="860.500" y="663">0</text>
<rect class="bd" x="883" y="648" width="13" height="20" rx="4"/><text class="v" x="889.500" y="663">1</text>
<rect class="bd" x="912" y="648" width="13" height="20" rx="4"/><text class="v" x="918.500" y="663">0</text>
<rect class="bd" x="941" y="648" width="13" height="20" rx="4"/><text class="v" x="947.500" y="663">1</text>
<rect class="bd" x="970" y="648" width="13" height="20" rx="4"/><text class="v" x="976.500" y="663">0</text>
<rect class="bd" x="999" y="648" width="13" height="20" rx="4"/><text class="v" x="1005.500" y="663">1</text>
<rect class="bd" x="1028" y="648" width="13" height="20" rx="4"/><text class="v" x="1034.500" y="663">0</text>
<rect class="bd" x="1057" y="648" width="13" height="20" rx="4"/><text class="v" x="1063.500" y="663">1</text>
<rect class="bd" x="1086" y="648" width="13" height="20" rx="4"/><text class="v" x="1092.500" y="663">0</text>
</g>
</svg>
</body></html>
